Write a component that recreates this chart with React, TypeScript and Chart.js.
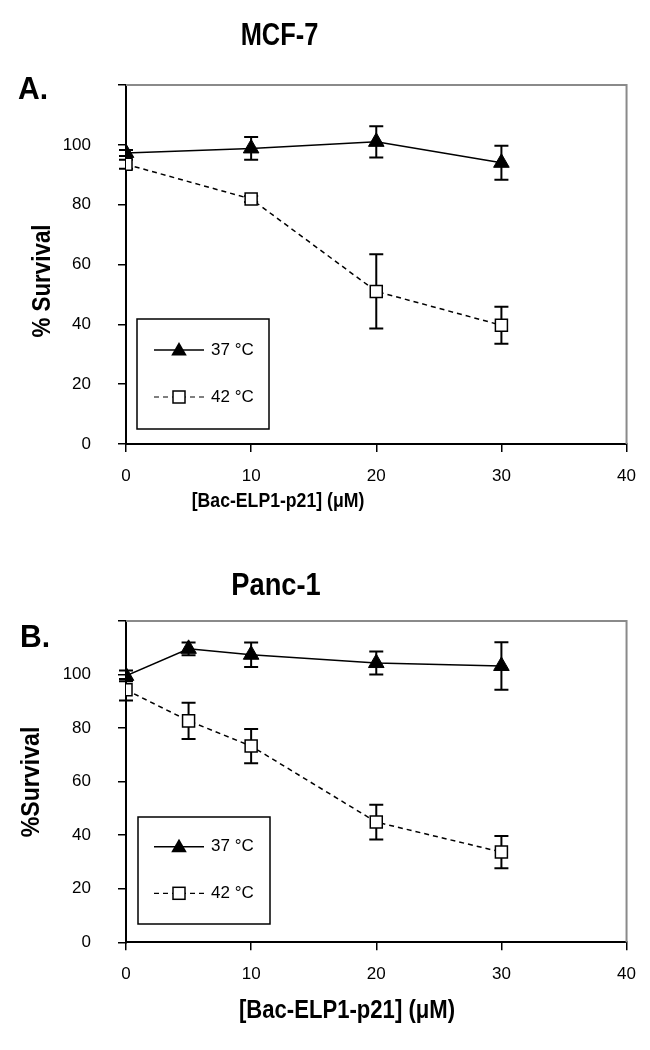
import React, { useEffect, useRef } from "react";
import { Chart, registerables } from "chart.js";

Chart.register(...registerables);

// ---------- data ----------
const X_TICKS = [0, 10, 20, 30, 40];
const Y_TICKS = [0, 20, 40, 60, 80, 100];
const SERIES_LABELS = ["37 °C", "42 °C"];

const mcfDose = [0, 10, 20, 30];
const mcf37 = [97.3, 98.8, 101, 94];
const mcf37Err = [1, 3.8, 5.2, 5.7];
const mcf42 = [93.5, 81.9, 51, 39.7];
const mcf42Err = [1.5, 1, 12.4, 6.2];

const pancDose = [0, 5, 10, 20, 30];
const panc37 = [99.5, 109.6, 107.4, 104.3, 103.2];
const panc37Err = [2, 2.4, 4.6, 4.3, 8.9];
const panc42 = [94.3, 82.7, 73.3, 44.9, 33.7];
const panc42Err = [4, 6.8, 6.4, 6.5, 6];

// ---------- styles ----------
const FONT = '"Liberation Sans", Arial, sans-serif';

type Panel = {
  title: string;
  letter: string;
  dose: number[];
  s37: number[];
  e37: number[];
  s42: number[];
  e42: number[];
  yTitle: string;
  xTitle: string;
  layout: {
    plotTop: number;
    plotBottom: number;
    titleX: number;
    titleBase: number;
    titleSx: number;
    letterX: number;
    letterBase: number;
    yTitleX: number;
    yTitleY: number;
    yTitleSize: number;
    yTitleSx: number;
    xTitleX: number;
    xTitleY: number;
    xTitleSize: number;
    xTitleSx: number;
    legend: [number, number, number, number];
    rows: [number, number];
  };
};

const panels: Panel[] = [
  {
    title: "MCF-7",
    letter: "A.",
    dose: mcfDose,
    s37: mcf37,
    e37: mcf37Err,
    s42: mcf42,
    e42: mcf42Err,
    yTitle: "% Survival",
    xTitle: "[Bac-ELP1-p21] (μM)",
    layout: {
      plotTop: 85,
      plotBottom: 444,
      titleX: 279.5,
      titleBase: 45,
      titleSx: 0.82,
      letterX: 18,
      letterBase: 99,
      yTitleX: 43,
      yTitleY: 281,
      yTitleSize: 26,
      yTitleSx: 0.86,
      xTitleX: 278,
      xTitleY: 501,
      xTitleSize: 21,
      xTitleSx: 0.84,
      legend: [137, 319, 269, 429],
      rows: [350, 397],
    },
  },
  {
    title: "Panc-1",
    letter: "B.",
    dose: pancDose,
    s37: panc37,
    e37: panc37Err,
    s42: panc42,
    e42: panc42Err,
    yTitle: "%Survival",
    xTitle: "[Bac-ELP1-p21] (μM)",
    layout: {
      plotTop: 96,
      plotBottom: 417.3,
      titleX: 276,
      titleBase: 70,
      titleSx: 0.88,
      letterX: 20,
      letterBase: 122,
      yTitleX: 32,
      yTitleY: 257,
      yTitleSize: 26,
      yTitleSx: 0.89,
      xTitleX: 347,
      xTitleY: 486,
      xTitleSize: 26,
      xTitleSx: 0.85,
      legend: [138, 292, 270, 399],
      rows: [321.7, 368.3],
    },
  },
];

const W = 650;
const H = 525;
const PLOT_LEFT = 126;
const PLOT_RIGHT = 627;

function drawTriangle(ctx: CanvasRenderingContext2D, x: number, y: number, r: number) {
  ctx.beginPath();
  ctx.moveTo(x, y - r);
  ctx.lineTo(x + r * 0.866, y + r * 0.5);
  ctx.lineTo(x - r * 0.866, y + r * 0.5);
  ctx.closePath();
  ctx.fillStyle = "#000";
  ctx.fill();
}

function drawSquare(ctx: CanvasRenderingContext2D, x: number, y: number, s: number) {
  ctx.fillStyle = "#fff";
  ctx.fillRect(x - s / 2, y - s / 2, s, s);
  ctx.strokeStyle = "#000";
  ctx.lineWidth = 1.5;
  ctx.setLineDash([]);
  ctx.strokeRect(x - s / 2, y - s / 2, s, s);
}

function squeezedText(
  ctx: CanvasRenderingContext2D,
  text: string,
  x: number,
  y: number,
  sx: number,
  rot = 0
) {
  ctx.save();
  ctx.translate(x, y);
  if (rot) ctx.rotate(rot);
  ctx.scale(sx, 1);
  ctx.fillText(text, 0, 0);
  ctx.restore();
}

function makePlugin(p: Panel) {
  const L = p.layout;
  return {
    id: "decor",
    beforeDatasetsDraw(chart: any) {
      const { ctx, chartArea: ca, scales } = chart;
      const x = scales.x;
      const y = scales.y;
      ctx.save();
      // plot area border (top & right)
      ctx.strokeStyle = "#8a8a8a";
      ctx.lineWidth = 2;
      ctx.beginPath();
      ctx.moveTo(ca.left, ca.top);
      ctx.lineTo(ca.right, ca.top);
      ctx.lineTo(ca.right, ca.bottom);
      ctx.stroke();
      // error bars
      ctx.strokeStyle = "#000";
      ctx.lineWidth = 2;
      chart.data.datasets.forEach((ds: any) => {
        ds.data.forEach((pt: any, j: number) => {
          const e = ds.errors[j];
          const px = x.getPixelForValue(pt.x);
          const t = y.getPixelForValue(pt.y + e);
          const b = y.getPixelForValue(pt.y - e);
          ctx.beginPath();
          ctx.moveTo(px, t);
          ctx.lineTo(px, b);
          ctx.moveTo(px - 7, t);
          ctx.lineTo(px + 7, t);
          ctx.moveTo(px - 7, b);
          ctx.lineTo(px + 7, b);
          ctx.stroke();
        });
      });
      ctx.restore();
    },
    afterDraw(chart: any) {
      const { ctx } = chart;
      ctx.save();
      ctx.fillStyle = "#000";
      // panel title
      ctx.font = `bold 31px ${FONT}`;
      ctx.textAlign = "center";
      ctx.textBaseline = "alphabetic";
      squeezedText(ctx, p.title, L.titleX, L.titleBase, L.titleSx);
      // panel letter
      ctx.font = `bold 32px ${FONT}`;
      ctx.textAlign = "left";
      squeezedText(ctx, p.letter, L.letterX, L.letterBase, 0.94);
      // x title
      ctx.font = `bold ${L.xTitleSize}px ${FONT}`;
      ctx.textAlign = "center";
      ctx.textBaseline = "middle";
      squeezedText(ctx, p.xTitle, L.xTitleX, L.xTitleY, L.xTitleSx);
      // y title
      ctx.font = `bold ${L.yTitleSize}px ${FONT}`;
      squeezedText(ctx, p.yTitle, L.yTitleX, L.yTitleY, L.yTitleSx, -Math.PI / 2);
      // legend
      const [x0, y0, x1, y1] = L.legend;
      ctx.fillStyle = "#fff";
      ctx.fillRect(x0, y0, x1 - x0, y1 - y0);
      ctx.strokeStyle = "#000";
      ctx.lineWidth = 1.5;
      ctx.strokeRect(x0, y0, x1 - x0, y1 - y0);
      // row 1
      ctx.beginPath();
      ctx.moveTo(154, L.rows[0]);
      ctx.lineTo(204, L.rows[0]);
      ctx.stroke();
      drawTriangle(ctx, 179, L.rows[0] + 1, 9);
      // row 2
      ctx.setLineDash([5, 4]);
      ctx.lineWidth = 1.2;
      ctx.beginPath();
      ctx.moveTo(154, L.rows[1]);
      ctx.lineTo(204, L.rows[1]);
      ctx.stroke();
      ctx.setLineDash([]);
      drawSquare(ctx, 179, L.rows[1], 12);
      ctx.fillStyle = "#000";
      ctx.font = `17px ${FONT}`;
      ctx.textAlign = "left";
      ctx.textBaseline = "middle";
      ctx.fillText(SERIES_LABELS[0], 211, L.rows[0]);
      ctx.fillText(SERIES_LABELS[1], 211, L.rows[1]);
      ctx.restore();
    },
  };
}

function PanelChart({ p }: { p: Panel }) {
  const ref = useRef<HTMLCanvasElement | null>(null);
  useEffect(() => {
    if (!ref.current) return;
    const L = p.layout;
    const chart = new Chart(ref.current, {
      type: "line",
      data: {
        datasets: [
          {
            label: SERIES_LABELS[0],
            data: p.dose.map((d, i) => ({ x: d, y: p.s37[i] })),
            errors: p.e37,
            borderColor: "#000",
            borderWidth: 1.5,
            pointStyle: "triangle",
            pointRadius: 9,
            pointBackgroundColor: "#000",
            pointBorderColor: "#000",
            pointBorderWidth: 1,
            tension: 0,
          } as any,
          {
            label: SERIES_LABELS[1],
            data: p.dose.map((d, i) => ({ x: d, y: p.s42[i] })),
            errors: p.e42,
            borderColor: "#000",
            borderWidth: 1.5,
            borderDash: [5, 4],
            pointStyle: "rect",
            pointRadius: 8.5,
            pointBackgroundColor: "#fff",
            pointBorderColor: "#000",
            pointBorderWidth: 1.5,
            tension: 0,
          } as any,
        ],
      },
      options: {
        animation: false,
        responsive: false,
        maintainAspectRatio: false,
        events: [],
        layout: {
          padding: { top: L.plotTop, right: W - PLOT_RIGHT, left: 0, bottom: 0 },
        },
        plugins: {
          legend: { display: false },
          tooltip: { enabled: false },
          title: { display: false },
        },
        scales: {
          x: {
            type: "linear",
            min: 0,
            max: 40,
            afterBuildTicks: (s: any) => {
              s.ticks = X_TICKS.map((v) => ({ value: v }));
            },
            afterFit: (s: any) => {
              s.height = H - L.plotBottom;
            },
            ticks: {
              color: "#000",
              font: { family: FONT, size: 17 },
              padding: 14,
              maxRotation: 0,
            },
            grid: {
              display: true,
              drawOnChartArea: false,
              drawTicks: true,
              tickLength: 8,
              color: "#000",
              lineWidth: 1.5,
            },
            border: { display: true, color: "#000", width: 2 },
          },
          y: {
            type: "linear",
            min: 0,
            max: 120,
            afterBuildTicks: (s: any) => {
              s.ticks = [...Y_TICKS, 120].map((v) => ({ value: v }));
            },
            afterFit: (s: any) => {
              s.width = PLOT_LEFT;
            },
            ticks: {
              color: "#000",
              font: { family: FONT, size: 17 },
              padding: 27,
              callback: (v: any) => (Y_TICKS.includes(Number(v)) ? String(v) : ""),
            },
            grid: {
              display: true,
              drawOnChartArea: false,
              drawTicks: true,
              tickLength: 8,
              color: "#000",
              lineWidth: 1.5,
            },
            border: { display: true, color: "#000", width: 2 },
          },
        },
      } as any,
      plugins: [makePlugin(p)],
    });
    return () => chart.destroy();
  }, [p]);
  return <canvas ref={ref} width={W} height={H} style={{ display: "block", width: W, height: H }} />;
}

export default function App() {
  return (
    <div style={{ position: "absolute", left: 0, top: 0, width: W, height: 2 * H, background: "#fff" }}>
      {panels.map((p) => (
        <PanelChart key={p.title} p={p} />
      ))}
    </div>
  );
}
